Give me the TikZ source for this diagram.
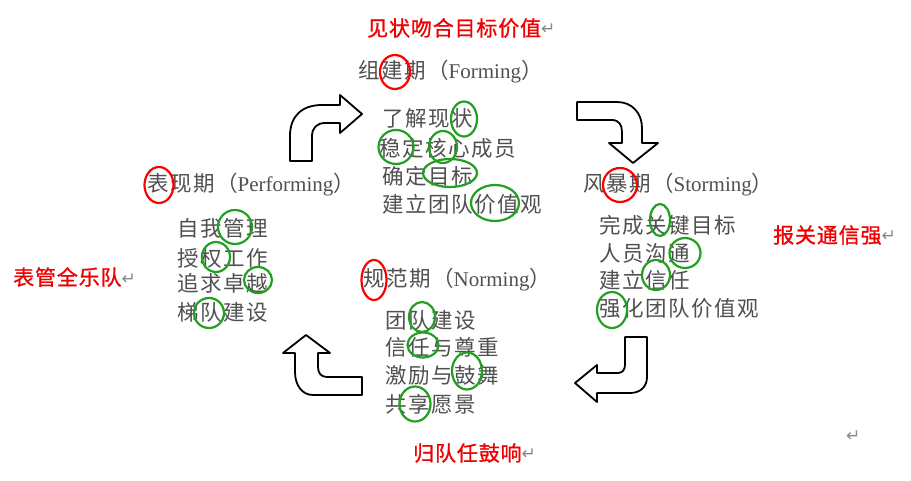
\documentclass[tikz,border=0pt]{standalone}
\usepackage{fontspec}
\newfontfamily\dgCjk[LetterSpace=7]{Noto Sans CJK SC}
\newfontfamily\dgCjkRed[LetterSpace=4,FakeBold=1]{Noto Sans CJK SC}
\newfontfamily\dgLatFam{Liberation Serif}
\newfontfamily\dgSym{DejaVu Sans}
\definecolor{txtgray}{RGB}{80,80,80}
\definecolor{ringgreen}{RGB}{34,160,34}
\definecolor{markgray}{RGB}{135,135,135}
\definecolor{labelred}{RGB}{240,0,0}
\newcommand{\dgBody}{\dgCjk\fontsize{21.5}{24}\selectfont}
\newcommand{\dgLat}[1]{{\dgLatFam\fontsize{21}{24}\selectfont #1}}
\newcommand{\dgRedFont}{\dgCjkRed\fontsize{21}{24}\selectfont}
\newcommand{\dgRet}{\raisebox{1pt}{\dgSym\fontsize{17}{19}\selectfont\textcolor{markgray}{↵}}}
\tikzset{
  bodytext/.style={anchor=west, inner sep=0pt, text=txtgray, font=\dgBody},
  redlabel/.style={anchor=west, inner sep=0pt, text=labelred, font=\dgRedFont},
  retmark/.style={anchor=west, inner sep=0pt},
  redring/.style={draw=red, line width=2.2pt},
  greenring/.style={draw=ringgreen, line width=2.2pt},
  bentarrow/.style={draw=black, line width=1.8pt, fill=white, line join=round}
}
\begin{document}
\begin{tikzpicture}[x=1pt,y=-1pt]
\fill[white] (0,0) rectangle (911,481);
\useasboundingbox (0,0) rectangle (911,481);

% ---------- red summary labels ----------
\node[redlabel] (rtop) at (367,28) {见状吻合目标价值\dgRet};
\node[redlabel] (rright) at (773,235) {报关通信强\dgRet};
\node[redlabel] (rleft) at (13,277) {表管全乐队\dgRet};
\node[redlabel] (rbottom) at (413,453) {归队任鼓响\dgRet};
\node[retmark] (stray) at (846,437) {\dgRet};

% ---------- Forming ----------
\node[bodytext] (fhead) at (358,72) {组建期（\dgLat{Forming}）};
\node[bodytext] (f1) at (382,118) {了解现状};
\node[bodytext] (f2) at (379,148) {稳定核心成员};
\node[bodytext] (f3) at (382,176) {确定目标};
\node[bodytext] (f4) at (382,204) {建立团队价值观};

% ---------- Storming ----------
\node[bodytext] (shead) at (583,185) {风暴期（\dgLat{Storming}）};
\node[bodytext] (s1) at (599,225) {完成关键目标};
\node[bodytext] (s2) at (599,253) {人员沟通};
\node[bodytext] (s3) at (599,280) {建立信任};
\node[bodytext] (s4) at (599,308) {强化团队价值观};

% ---------- Performing ----------
\node[bodytext] (phead) at (147,185) {表现期（\dgLat{Performing}）};
\node[bodytext] (p1) at (177,228) {自我管理};
\node[bodytext] (p2) at (177,258) {授权工作};
\node[bodytext] (p3) at (177,283) {追求卓越};
\node[bodytext] (p4) at (177,312) {梯队建设};

% ---------- Norming ----------
\node[bodytext] (nhead) at (363,280) {规范期（\dgLat{Norming}）};
\node[bodytext] (n1) at (385,320) {团队建设};
\node[bodytext] (n2) at (385,347) {信任与尊重};
\node[bodytext] (n3) at (385,375) {激励与鼓舞};
\node[bodytext] (n4) at (385,404) {共享愿景};

% ---------- red rings ----------
\draw[redring] (395,72) ellipse [x radius=15pt, y radius=17pt];
\draw[redring] (620,185) ellipse [x radius=17pt, y radius=17pt];
\draw[redring] (159,185) ellipse [x radius=14.5pt, y radius=18pt];
\draw[redring] (374,280) ellipse [x radius=12.5pt, y radius=20pt];

% ---------- green rings ----------
\draw[greenring] (464,119) ellipse [x radius=13pt, y radius=17.5pt];
\draw[greenring] (396,147) ellipse [x radius=17.5pt, y radius=17pt];
\draw[greenring] (443,147) ellipse [x radius=14pt, y radius=16pt];
\draw[greenring] (450,173) ellipse [x radius=27pt, y radius=14pt];
\draw[greenring] (495,203) ellipse [x radius=24pt, y radius=18pt];

\draw[greenring] (660,220) ellipse [x radius=10pt, y radius=16pt];
\draw[greenring] (685,253) ellipse [x radius=15.5pt, y radius=15pt];
\draw[greenring] (656,275) ellipse [x radius=14pt, y radius=15pt];
\draw[greenring] (612,310) ellipse [x radius=15pt, y radius=18pt];

\draw[greenring] (235,227) ellipse [x radius=17pt, y radius=17pt];
\draw[greenring] (216,257) ellipse [x radius=14pt, y radius=15pt];
\draw[greenring] (258,280) ellipse [x radius=14pt, y radius=13pt];
\draw[greenring] (209,313) ellipse [x radius=15pt, y radius=15pt];

\draw[greenring] (422,317) ellipse [x radius=13pt, y radius=15pt];
\draw[greenring] (423,345) ellipse [x radius=15.5pt, y radius=12.5pt];
\draw[greenring] (467,371) ellipse [x radius=15pt, y radius=18.5pt];
\draw[greenring] (415,404) ellipse [x radius=15.5pt, y radius=17.5pt];

% ---------- bent arrows ----------
% top-left: up then right
\draw[bentarrow] (290,161) -- (290,136) .. controls (290,116) and (302,105) .. (322,105)
  -- (340,105) -- (340,95) -- (362,114) -- (340,133) -- (340,123) -- (325,123)
  .. controls (317,123) and (312,128) .. (312,136) -- (312,161) -- cycle;
% top-right: right then down
\draw[bentarrow] (577,102) -- (617,102) .. controls (632,102) and (642,113) .. (642,128)
  -- (642,143) -- (658,143) -- (633,163) -- (609,143) -- (622,143) -- (622,132)
  .. controls (622,125) and (619,120) .. (612,120) -- (577,120) -- cycle;
% bottom-right: down then left
\draw[bentarrow] (625,337) -- (647,337) -- (647,377) .. controls (647,387) and (640,393) .. (630,393)
  -- (597,393) -- (597,402) -- (575,383) -- (597,365) -- (597,373) -- (618,373)
  .. controls (622,373) and (625,370) .. (625,365) -- cycle;
% bottom-left: left then up
\draw[bentarrow] (362,395) -- (313,395) .. controls (302,395) and (295,385) .. (295,372)
  -- (295,353) -- (283,353) -- (306,335) -- (330,353) -- (318,353) -- (318,367)
  .. controls (318,373) and (321,377) .. (327,377) -- (362,377) -- cycle;
\end{tikzpicture}
\end{document}
